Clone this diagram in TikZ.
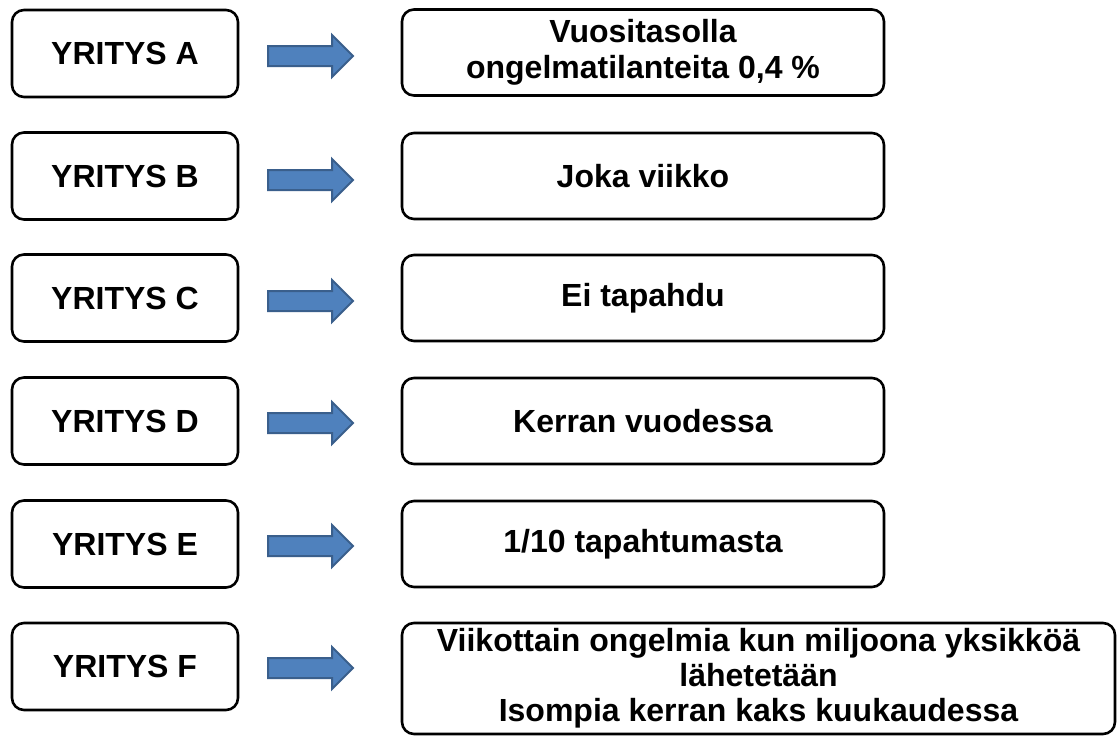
\documentclass[tikz,border=0pt]{standalone}
\usepackage{fontspec}
\setmainfont{Liberation Sans}
\begin{document}
\begin{tikzpicture}[x=1pt,y=-1pt,
  box/.style={draw=black,line width=2.6pt,rounded corners=12pt,fill=white,
    inner sep=0pt,align=center,font=\fontsize{32}{36}\selectfont\bfseries},
  lbox/.style={box,minimum width=226pt,minimum height=87pt},
  rbox/.style={box,minimum width=482pt,minimum height=86pt},
  arrowbody/.style={fill=arrowblue,draw=arrowedge,line width=2pt,line join=miter},
  bigarrow/.pic={\path[arrowbody] (-42,-10) -- (22,-10) -- (22,-21) -- (43,0)
      -- (22,21) -- (22,10) -- (-42,10) -- cycle;}]
\definecolor{arrowblue}{HTML}{4F81BD}
\definecolor{arrowedge}{HTML}{3A5F8C}
\useasboundingbox[fill=white] (0,0) rectangle (1120,736);

% company boxes
\node[lbox] (ya) at (125,53.5) {YRITYS A};
\node[lbox] (yb) at (125,176) {YRITYS B};
\node[lbox] (yc) at (125,298) {YRITYS C};
\node[lbox] (yd) at (125,421) {YRITYS D};
\node[lbox] (ye) at (125,544) {YRITYS E};
\node[lbox] (yf) at (125,666.5) {YRITYS F};

% answer boxes
\node[rbox] (ra) at (643,52.5) {Vuositasolla\\ongelmatilanteita 0,4 \%};
\node[rbox] (rb) at (643,176) {Joka viikko};
\node[rbox] (rc) at (643,298) {Ei tapahdu};
\node[rbox] (rd) at (643,421) {Kerran vuodessa};
\node[rbox] (re) at (643,544) {1/10 tapahtumasta};
\node[box,minimum width=713pt,minimum height=111pt,font=\fontsize{32}{35}\selectfont\bfseries]
  (rf) at (758.5,678.5) {Viikottain ongelmia kun miljoona yksikköä\\lähetetään\\Isompia kerran kaks kuukaudessa};

% block arrows between the columns
\pic at (310,56) {bigarrow};
\pic at (310,180) {bigarrow};
\pic at (310,301) {bigarrow};
\pic at (310,423) {bigarrow};
\pic at (310,546) {bigarrow};
\pic at (310,668) {bigarrow};
\end{tikzpicture}
\end{document}
